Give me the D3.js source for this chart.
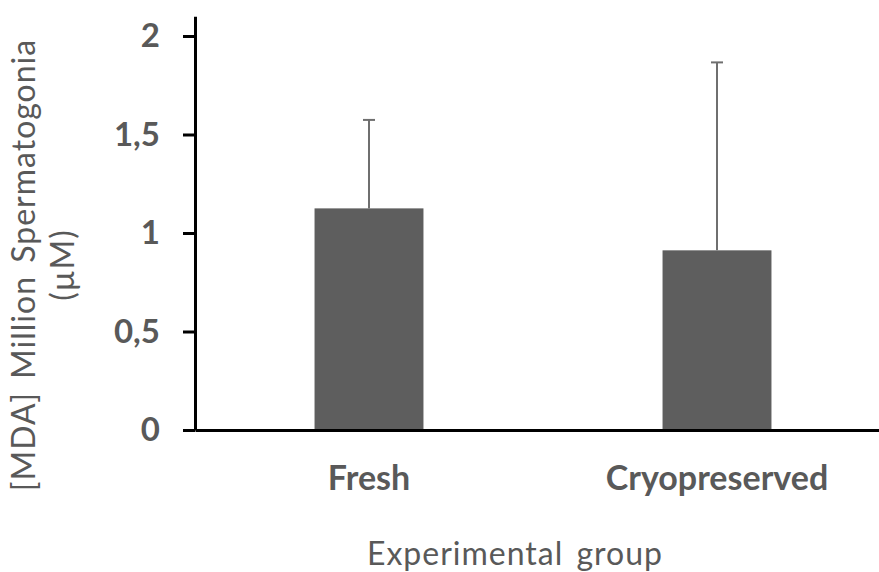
<!DOCTYPE html>
<html>
<head>
<meta charset="utf-8">
<script src="https://cdn.jsdelivr.net/npm/d3@7/dist/d3.min.js"></script>
<style>
  html, body { margin: 0; padding: 0; background: #ffffff; }
  svg { display: block; }
  text { font-family: Lato, "Open Sans", sans-serif; fill: #595959; }
</style>
</head>
<body>
<svg id="chart" width="879" height="572"></svg>
<script>
// MDA per million spermatogonia, mean with upper error (SD)
const groups = ["Fresh", "Cryopreserved"];
const means = [1.125, 0.912];
const errors = [0.449, 0.954];
const yTicks = [0, 0.5, 1, 1.5, 2];

const svg = d3.select("#chart");

const y = d3.scaleLinear().domain([0, 2.1]).range([430, 16.3]);
const x = d3.scaleBand()
  .domain(groups)
  .range([195, 891])
  .paddingInner(0.687)
  .paddingOuter(0.3435);

// bars
svg.append("g").selectAll("rect")
  .data(groups)
  .join("rect")
  .attr("x", d => x(d))
  .attr("width", x.bandwidth())
  .attr("y", (d, i) => y(means[i]))
  .attr("height", (d, i) => y(0) - y(means[i]))
  .attr("fill", "#5e5e5e");

// upper error bars
const eb = svg.append("g").attr("stroke", "#6f6f6f").attr("stroke-width", 2);
groups.forEach((g, i) => {
  const cx = x(g) + x.bandwidth() / 2;
  eb.append("line")
    .attr("x1", cx).attr("x2", cx)
    .attr("y1", y(means[i])).attr("y2", y(means[i] + errors[i]));
  eb.append("line")
    .attr("x1", cx - 6).attr("x2", cx + 6)
    .attr("y1", y(means[i] + errors[i])).attr("y2", y(means[i] + errors[i]));
});

// y axis
const yAxis = d3.axisLeft(y)
  .tickValues(yTicks)
  .tickSize(12)
  .tickSizeOuter(0)
  .tickPadding(23)
  .tickFormat(d => String(d).replace(".", ","));
const gy = svg.append("g").attr("transform", "translate(195,0)").call(yAxis);
gy.select(".domain").attr("stroke", "#000").attr("stroke-width", 3);
gy.selectAll(".tick line").attr("stroke", "#000").attr("stroke-width", 3);
gy.selectAll(".tick text")
  .attr("font-family", "Lato, sans-serif")
  .attr("font-weight", "bold")
  .attr("font-size", 33)
  .attr("fill", "#595959");

// x axis
const xAxis = d3.axisBottom(x).tickSize(0).tickSizeOuter(0).tickPadding(36);
const gx = svg.append("g").attr("transform", "translate(0,430)").call(xAxis);
gx.select(".domain").attr("stroke", "#000").attr("stroke-width", 3);
gx.selectAll(".tick text")
  .attr("font-family", "Lato, sans-serif")
  .attr("font-weight", "bold")
  .attr("font-size", 34)
  .attr("fill", "#595959");

// axis titles
svg.append("text")
  .attr("x", 515).attr("y", 565)
  .attr("text-anchor", "middle")
  .attr("font-size", 32)
  .attr("letter-spacing", 1)
  .attr("word-spacing", 4)
  .text("Experimental group");

const yt = svg.append("text")
  .attr("transform", "translate(0,265) rotate(-90)")
  .attr("text-anchor", "middle")
  .attr("font-size", 32)
  .attr("letter-spacing", 1)
  .attr("word-spacing", 4);
yt.append("tspan").attr("x", 0).attr("y", 35).text("[MDA] Million Spermatogonia");
yt.append("tspan").attr("x", 0).attr("y", 74).text("(µM)");
</script>
</body>
</html>
